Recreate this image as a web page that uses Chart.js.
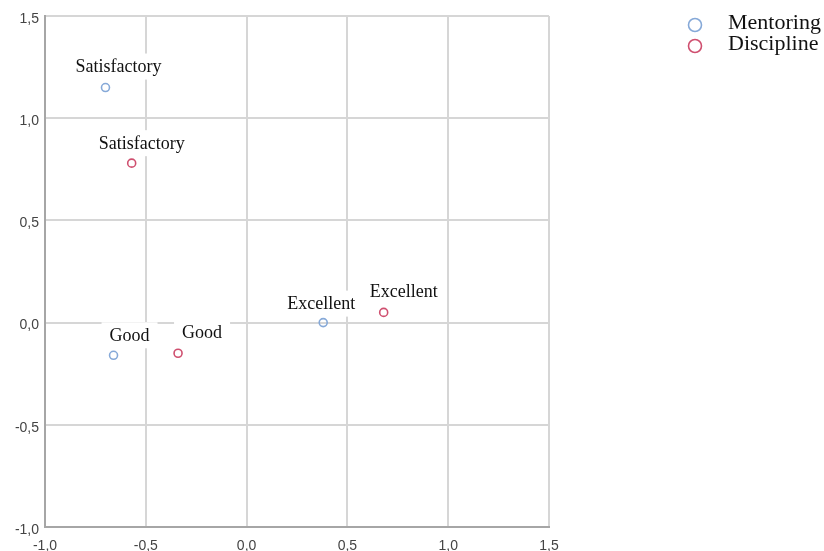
<!DOCTYPE html>
<html>
<head>
<meta charset="utf-8">
<script src="https://cdn.jsdelivr.net/npm/chart.js@4.4.0/dist/chart.umd.min.js"></script>
<style>
  html, body { margin: 0; padding: 0; background: #ffffff; }
  #wrap { width: 824px; height: 551px; position: relative; }
</style>
</head>
<body>
<div id="wrap"><canvas id="chart"></canvas></div>
<script>
const seriesNames = ["Mentoring", "Discipline"];
const categories = ["Satisfactory", "Good", "Excellent"];
const mentoringX = [-0.70, -0.66, 0.38];
const mentoringY = [1.15, -0.16, 0.00];
const disciplineX = [-0.57, -0.34, 0.68];
const disciplineY = [0.78, -0.15, 0.05];
const tickValues = [-1.0, -0.5, 0.0, 0.5, 1.0, 1.5];

const colors = ["#86a9d8", "#cf4f6f"];
// label nudges in pixels, per series then per category
const labelShift = [
    [[13, -20], [16, -19], [-2, -18]],
    [[10, -19], [24, -20], [20, -20]]
];

function toPoints(xs, ys) {
    return xs.map((x, i) => ({ x: x, y: ys[i], label: categories[i] }));
}

function fmt(v) {
    return v.toFixed(1).replace(".", ",");
}

const pointLabels = {
    id: "pointLabels",
    afterDatasetsDraw(chart) {
        const ctx = chart.ctx;
        ctx.save();
        ctx.font = "18px 'Liberation Serif'";
        ctx.textAlign = "center";
        ctx.textBaseline = "middle";
        chart.data.datasets.forEach((ds, di) => {
            const meta = chart.getDatasetMeta(di);
            meta.data.forEach((el, i) => {
                const tx = el.x + labelShift[di][i][0];
                const ty = el.y + labelShift[di][i][1];
                const w = ctx.measureText(ds.data[i].label).width;
                ctx.fillStyle = "#ffffff";
                ctx.fillRect(tx - w / 2 - 8, ty - 14, w + 16, 26);
                ctx.fillStyle = "#111111";
                ctx.fillText(ds.data[i].label, tx, ty);
            });
        });
        ctx.restore();
    }
};

const sideLegend = {
    id: "sideLegend",
    afterDraw(chart) {
        const ctx = chart.ctx;
        ctx.save();
        ctx.font = "22px 'Liberation Serif'";
        ctx.textBaseline = "alphabetic";
        chart.data.datasets.forEach((ds, i) => {
            const cy = 25 + i * 21;
            ctx.beginPath();
            ctx.arc(695, cy, 6.5, 0, Math.PI * 2);
            ctx.lineWidth = 1.6;
            ctx.strokeStyle = ds.borderColor;
            ctx.stroke();
            ctx.fillStyle = "#111111";
            ctx.fillText(ds.label, 728, cy + 4);
        });
        ctx.restore();
    }
};

new Chart(document.getElementById("chart"), {
    type: "scatter",
    data: {
        datasets: [
            {
                label: seriesNames[0],
                data: toPoints(mentoringX, mentoringY),
                borderColor: colors[0],
                backgroundColor: "rgba(0,0,0,0)",
                borderWidth: 1.6,
                pointRadius: 4
            },
            {
                label: seriesNames[1],
                data: toPoints(disciplineX, disciplineY),
                borderColor: colors[1],
                backgroundColor: "rgba(0,0,0,0)",
                borderWidth: 1.6,
                pointRadius: 4
            }
        ]
    },
    options: {
        responsive: true,
        maintainAspectRatio: false,
        animation: false,
        layout: { padding: { top: 16, right: 275, left: 0, bottom: 0 } },
        plugins: {
            legend: { display: false },
            tooltip: { enabled: false }
        },
        scales: {
            x: {
                min: -1.0,
                max: 1.5,
                afterBuildTicks: (scale) => { scale.ticks = tickValues.map(v => ({ value: v })); },
                afterFit: (scale) => { scale.height = 24; },
                grid: { color: "#d6d6d6", lineWidth: 2, drawTicks: false },
                border: { color: "#a6a6a6", width: 2 },
                ticks: {
                    padding: 11,
                    color: "#444444",
                    font: { family: "'Liberation Sans'", size: 14 },
                    callback: (v) => fmt(v)
                }
            },
            y: {
                min: -1.0,
                max: 1.5,
                afterBuildTicks: (scale) => { scale.ticks = tickValues.map(v => ({ value: v })); },
                afterFit: (scale) => { scale.width = 45; },
                grid: { color: "#d6d6d6", lineWidth: 2, drawTicks: false },
                border: { color: "#a6a6a6", width: 2 },
                ticks: {
                    padding: 6,
                    labelOffset: 3,
                    color: "#444444",
                    font: { family: "'Liberation Sans'", size: 14 },
                    callback: (v) => fmt(v)
                }
            }
        }
    },
    plugins: [pointLabels, sideLegend]
});
</script>
</body>
</html>
